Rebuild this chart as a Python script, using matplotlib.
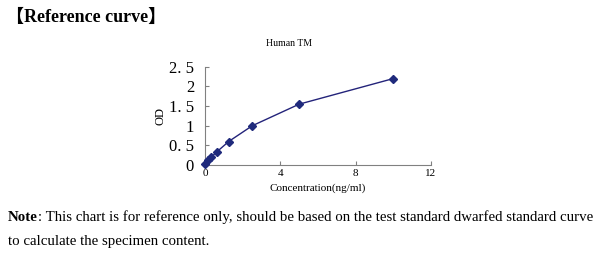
import matplotlib
matplotlib.use("Agg")
import matplotlib.pyplot as plt

# standard curve points
conc = [0, 0.156, 0.312, 0.625, 1.25, 2.5, 5, 10]
od = [0.03, 0.12, 0.2, 0.34, 0.6, 1.0, 1.55, 2.2]

x_ticks = [0, 4, 8, 12]
y_ticks = [0, 0.5, 1, 1.5, 2, 2.5]
y_tick_labels = ["0", "0. 5", "1", "1. 5", "2", "2. 5"]

serif = ["Liberation Serif", "Noto Sans CJK SC", "DejaVu Serif"]
plt.rcParams["font.family"] = serif

fig = plt.figure(figsize=(6, 2.54), dpi=100)
ax = fig.add_axes([0.342, 0.35, 0.376, 0.387])

ax.plot(conc, od, color="#23237a", lw=1.0, marker="D", ms=4.5,
        mfc="#1f2a7c", mec="#1f2a7c", clip_on=False, zorder=3)

ax.set_xlim(0, 12)
ax.set_ylim(0, 2.5)
ax.set_xticks(x_ticks)
ax.set_yticks(y_ticks)
ax.set_yticklabels(y_tick_labels, fontsize=12)
ax.tick_params(axis="x", labelsize=8, direction="in", length=3, color="#808080", pad=3)
ax.tick_params(axis="y", direction="in", length=3, color="#808080", pad=8)
for s in ["top", "right"]:
    ax.spines[s].set_visible(False)
for s in ["left", "bottom"]:
    ax.spines[s].set_color("#808080")
    ax.spines[s].set_linewidth(0.8)

ax.set_xlabel("Concentration(ng/ml)", fontsize=8, labelpad=4)
ax.set_ylabel("OD", fontsize=9, labelpad=2)

fig.text(0.482, 0.83, "Human TM", fontsize=7, ha="center", va="center")
fig.text(0.01, 0.93, "【Reference curve】", fontsize=13, fontweight="bold",
         ha="left", va="center")

# bold "Note" followed by regular text
t1 = fig.text(0.013, 0.145, "Note", fontsize=10.7, fontweight="bold", ha="left", va="center")
fig.canvas.draw()
bb = t1.get_window_extent()
x2 = bb.x1 / fig.bbox.width
fig.text(x2, 0.145, ": This chart is for reference only, should be based on the test standard dwarfed standard curve",
         fontsize=10.7, ha="left", va="center")
fig.text(0.013, 0.05, "to calculate the specimen content.", fontsize=10.7, ha="left", va="center")

fig.savefig("out.png", dpi=100)
